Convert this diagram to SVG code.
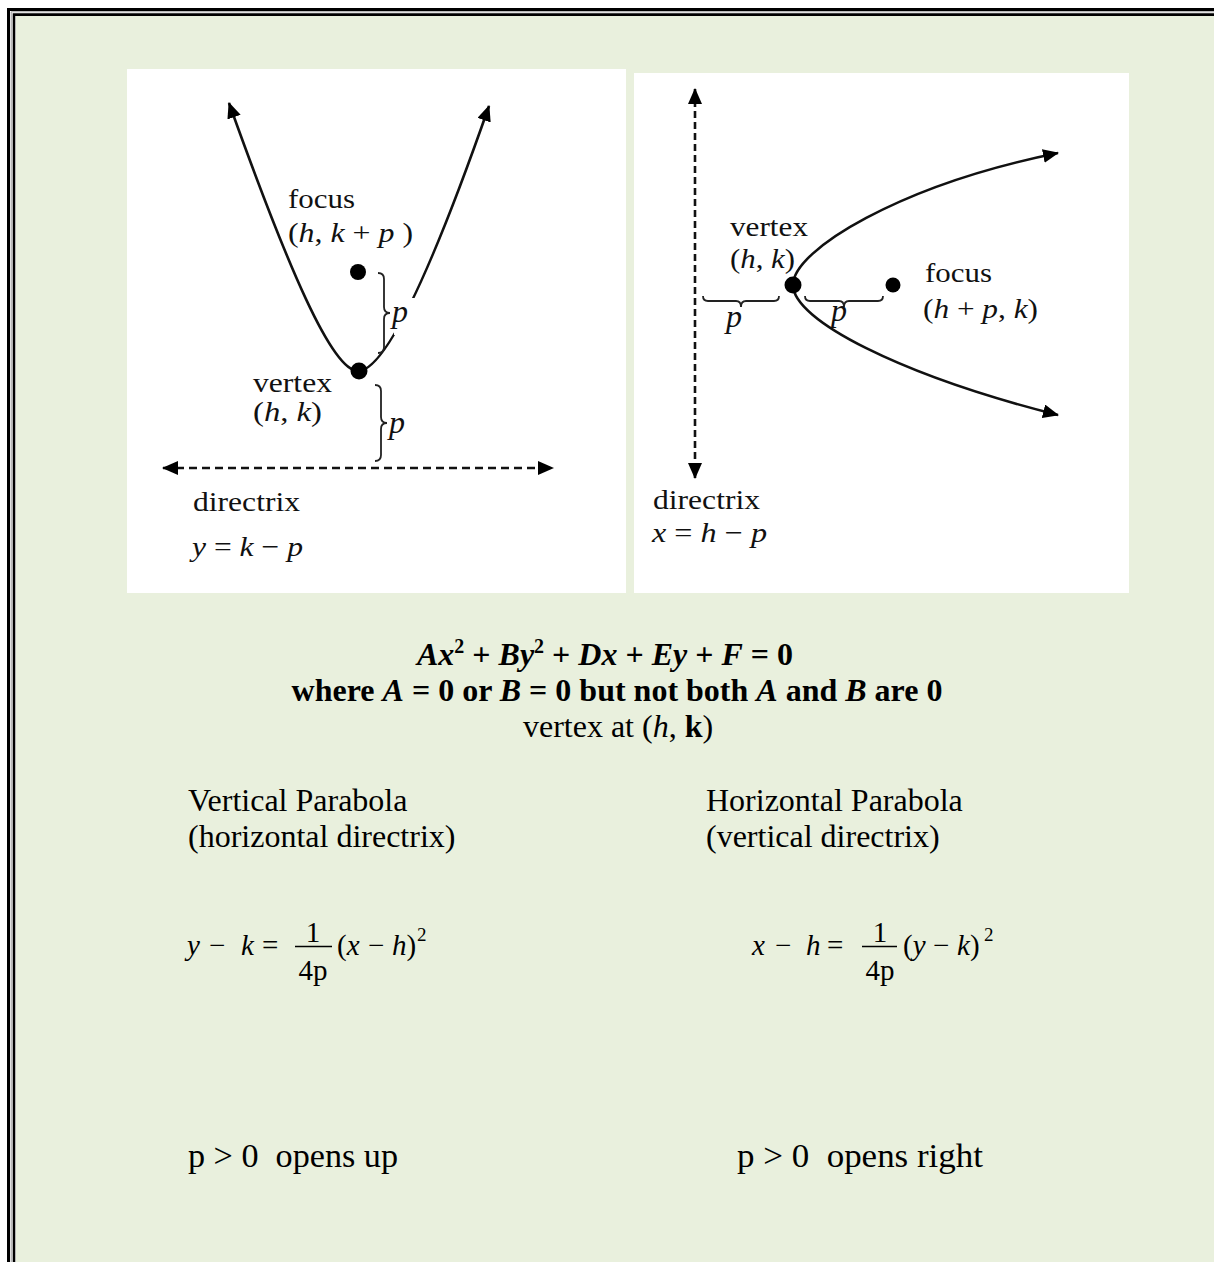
<svg xmlns="http://www.w3.org/2000/svg" width="1214" height="1262" viewBox="0 0 1214 1262">
<style>
.lbl{font-family:"Liberation Serif","Times New Roman",serif;font-size:28px;fill:#111}
.it{font-style:italic}
.body{font-family:"Liberation Serif","Times New Roman",serif;font-size:32px;fill:#000}
.b{font-weight:bold}
.eq{font-family:"Liberation Serif","Times New Roman",serif;font-size:29px;fill:#000}
.sup{font-size:19px}
.plbl{font-size:32px}
.math{font-family:"Liberation Serif","Times New Roman",serif;font-size:33px;fill:#000}
.curve{fill:none;stroke:#111;stroke-width:2.6}
.dash{fill:none;stroke:#111;stroke-width:2.6}
.brace{fill:none;stroke:#222;stroke-width:1.8}
.dot{fill:#000}
.panel{fill:#fff}
</style>
<defs>
<marker id="ah" viewBox="0 0 16 14" refX="15" refY="7" markerWidth="16" markerHeight="14" markerUnits="userSpaceOnUse" orient="auto-start-reverse">
<path d="M0,0 L16,7 L0,14 z" fill="#000"/>
</marker>
<mask id="gap">
<rect x="0" y="0" width="1214" height="1262" fill="#fff"/>
<rect x="394" y="298" width="34" height="37" fill="#000"/>
</mask>
</defs>

<g id="frame">
<rect x="0" y="0" width="1214" height="1262" fill="#fff"/>
<rect x="16" y="16" width="1198" height="1246" fill="#E9F0DD"/>
<path d="M8.5,1262 V9.5 H1214" fill="none" stroke="#000" stroke-width="3"/>
<path d="M11.2,1262 V11.8 H1214" fill="none" stroke="#9a9a9a" stroke-width="1"/>
<path d="M14,1262 V14.6 H1214" fill="none" stroke="#000" stroke-width="2.6"/>
</g>

<g id="panel-left">
<rect class="panel" x="127" y="69" width="499" height="524"/>
</g>
<g id="panel-right">
<rect class="panel" x="634" y="73" width="495" height="520"/>
</g>

<g id="connectors">
<path class="curve" d="M358,371 C332,371 288,268 229,103" marker-end="url(#ah)"/>
<path class="curve" d="M358,371 C385,371 430,275 489,106" marker-end="url(#ah)" mask="url(#gap)"/>
<path class="dash" d="M163,468 H553" stroke-dasharray="8 5" marker-start="url(#ah)" marker-end="url(#ah)"/>
<path class="brace" d="M378,273 q6,0 6,6 v28 q0,6 6,6 q-6,0 -6,6 v28 q0,6 -6,6"/>
<path class="brace" d="M375,385 q6,0 6,6 v26 q0,6 6,6 q-6,0 -6,6 v26 q0,6 -6,6"/>
<path class="curve" d="M793,285 C793,250 900,185 1058,153" marker-end="url(#ah)"/>
<path class="curve" d="M793,285 C793,320 900,375 1058,415" marker-end="url(#ah)"/>
<path class="dash" d="M695,89 V478" stroke-width="3" stroke-dasharray="7 4" marker-start="url(#ah)" marker-end="url(#ah)"/>
<path class="brace" d="M703,296 q0,5 5,5 h28 q5,0 5,6 q0,-6 5,-6 h28 q5,0 5,-5"/>
<path class="brace" d="M805,296 q0,5 5,5 h29 q5,0 5,6 q0,-6 5,-6 h29 q5,0 5,-5"/>
</g>

<g id="left-focus">
<circle class="dot" cx="358" cy="272" r="8"/>
<text class="lbl" x="288" y="208" textLength="67" lengthAdjust="spacingAndGlyphs">focus</text>
<text class="lbl" x="288" y="242" textLength="125" lengthAdjust="spacingAndGlyphs">(<tspan class="it">h</tspan>, <tspan class="it">k</tspan> + <tspan class="it">p</tspan> )</text>
</g>
<g id="left-vertex">
<circle class="dot" cx="359" cy="371" r="8.5"/>
<text class="lbl" x="253" y="392" textLength="79" lengthAdjust="spacingAndGlyphs">vertex</text>
<text class="lbl" x="253" y="421" textLength="69" lengthAdjust="spacingAndGlyphs">(<tspan class="it">h</tspan>, <tspan class="it">k</tspan>)</text>
</g>
<g id="left-p-labels">
<text class="lbl it plbl" x="392" y="322">p</text>
<text class="lbl it plbl" x="389" y="433">p</text>
</g>
<g id="left-directrix">
<text class="lbl" x="193" y="511" textLength="107" lengthAdjust="spacingAndGlyphs">directrix</text>
<text class="lbl" x="192" y="556" textLength="111" lengthAdjust="spacingAndGlyphs"><tspan class="it">y</tspan> = <tspan class="it">k</tspan> − <tspan class="it">p</tspan></text>
</g>

<g id="right-vertex">
<circle class="dot" cx="793" cy="285" r="8.5"/>
<text class="lbl" x="730" y="236" textLength="78" lengthAdjust="spacingAndGlyphs">vertex</text>
<text class="lbl" x="730" y="268" textLength="65" lengthAdjust="spacingAndGlyphs">(<tspan class="it">h</tspan>, <tspan class="it">k</tspan>)</text>
</g>
<g id="right-focus">
<circle class="dot" cx="893" cy="285" r="7.5"/>
<text class="lbl" x="925" y="282" textLength="67" lengthAdjust="spacingAndGlyphs">focus</text>
<text class="lbl" x="923" y="318" textLength="115" lengthAdjust="spacingAndGlyphs">(<tspan class="it">h</tspan> + <tspan class="it">p</tspan>, <tspan class="it">k</tspan>)</text>
</g>
<g id="right-p-labels">
<text class="lbl it plbl" x="726" y="327">p</text>
<text class="lbl it plbl" x="831" y="321">p</text>
</g>
<g id="right-directrix">
<text class="lbl" x="653" y="509" textLength="107" lengthAdjust="spacingAndGlyphs">directrix</text>
<text class="lbl" x="652" y="542" textLength="115" lengthAdjust="spacingAndGlyphs"><tspan class="it">x</tspan> = <tspan class="it">h</tspan> − <tspan class="it">p</tspan></text>
</g>

<g id="general-equation">
<text class="body b" x="605" y="665" text-anchor="middle"><tspan class="it">Ax</tspan><tspan dy="-12" font-size="20">2</tspan><tspan dy="12"> + </tspan><tspan class="it">By</tspan><tspan dy="-12" font-size="20">2</tspan><tspan dy="12"> + </tspan><tspan class="it">Dx</tspan> + <tspan class="it">Ey</tspan> + <tspan class="it">F</tspan> = 0</text>
<text class="body b" x="617" y="701" text-anchor="middle">where <tspan class="it">A</tspan> = 0 or <tspan class="it">B</tspan> = 0 but not both <tspan class="it">A</tspan> and <tspan class="it">B</tspan> are 0</text>
<text class="body" x="618" y="737" text-anchor="middle">vertex at (<tspan class="it">h</tspan>, <tspan class="b">k</tspan>)</text>
</g>

<g id="vertical-heading">
<text class="body" x="188" y="811">Vertical Parabola</text>
<text class="body" x="188" y="847">(horizontal directrix)</text>
</g>
<g id="horizontal-heading">
<text class="body" x="706" y="811">Horizontal Parabola</text>
<text class="body" x="706" y="847">(vertical directrix)</text>
</g>

<g id="vertical-equation">
<text class="eq it" x="187" y="955">y</text>
<text class="eq" x="209" y="955">−</text>
<text class="eq it" x="241" y="955">k</text>
<text class="eq" x="262" y="955">=</text>
<line x1="295" y1="946.5" x2="332" y2="946.5" stroke="#000" stroke-width="1.3"/>
<text class="eq" x="313" y="942" text-anchor="middle">1</text>
<text class="eq" x="313" y="980" text-anchor="middle">4p</text>
<text class="eq" x="337" y="955">(<tspan class="it">x</tspan></text>
<text class="eq" x="368" y="955">−</text>
<text class="eq" x="392" y="955"><tspan class="it">h</tspan>)</text>
<text class="eq sup" x="417" y="941">2</text>
</g>
<g id="horizontal-equation">
<text class="eq it" x="752" y="955">x</text>
<text class="eq" x="775" y="955">−</text>
<text class="eq it" x="806" y="955">h</text>
<text class="eq" x="827" y="955">=</text>
<line x1="862" y1="946.5" x2="897" y2="946.5" stroke="#000" stroke-width="1.3"/>
<text class="eq" x="880" y="942" text-anchor="middle">1</text>
<text class="eq" x="880" y="980" text-anchor="middle">4p</text>
<text class="eq" x="903" y="955">(<tspan class="it">y</tspan></text>
<text class="eq" x="933" y="955">−</text>
<text class="eq" x="957" y="955"><tspan class="it">k</tspan>)</text>
<text class="eq sup" x="984" y="941">2</text>
</g>

<g id="opens-up">
<text class="math" x="188" y="1167" textLength="210" lengthAdjust="spacingAndGlyphs">p &gt; 0&#160; opens up</text>
</g>
<g id="opens-right">
<text class="math" x="737" y="1167" textLength="246" lengthAdjust="spacingAndGlyphs">p &gt; 0&#160; opens right</text>
</g>
</svg>
